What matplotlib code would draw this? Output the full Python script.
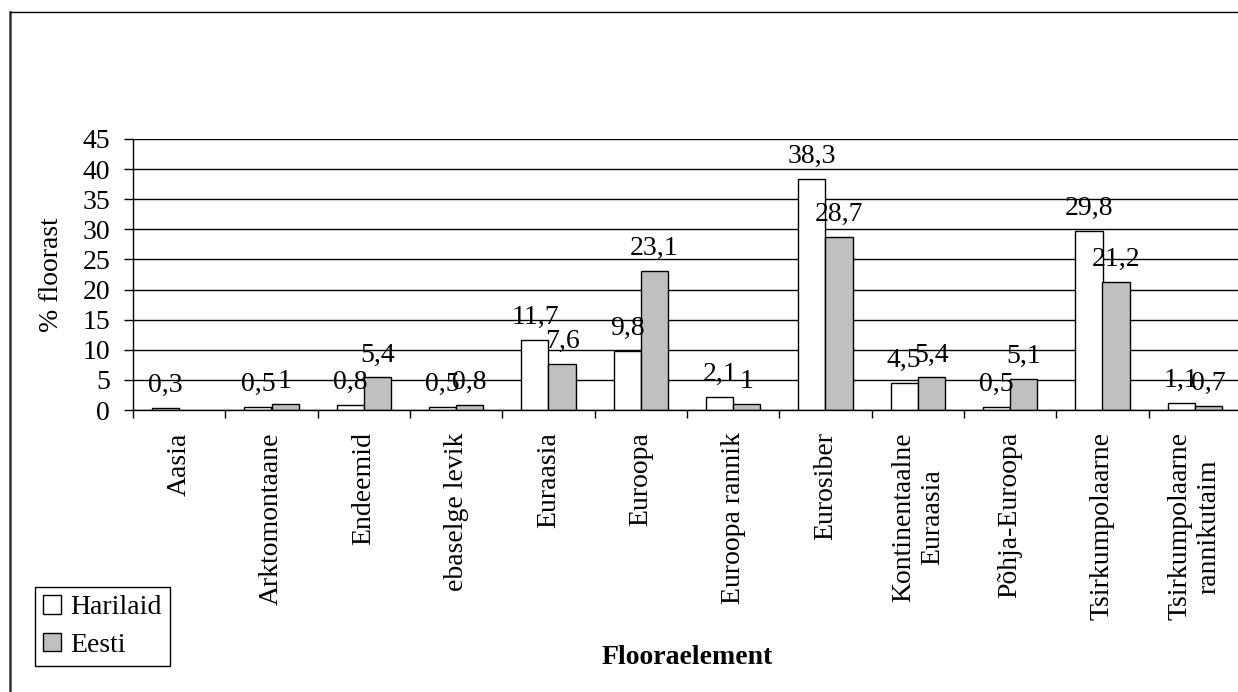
import numpy as np
import matplotlib
matplotlib.use("Agg")
import matplotlib.pyplot as plt
from matplotlib.patches import Patch
from matplotlib.lines import Line2D

plt.rcParams['font.family'] = ['Liberation Serif', 'DejaVu Serif']

categories = ['Aasia', 'Arktomontaane', 'Endeemid', 'ebaselge levik', 'Euraasia',
              'Euroopa', 'Euroopa rannik', 'Eurosiber', 'Kontinentaalne\nEuraasia',
              'Põhja-Euroopa', 'Tsirkumpolaarne', 'Tsirkumpolaarne\nrannikutaim']
harilaid = [0.3, 0.5, 0.8, 0.5, 11.7, 9.8, 2.1, 38.3, 4.5, 0.5, 29.8, 1.1]
eesti = [np.nan, 1, 5.4, 0.8, 7.6, 23.1, 1, 28.7, 5.4, 5.1, 21.2, 0.7]
yticks = list(range(0, 50, 5))

W, H = 1238, 692
fig = plt.figure(figsize=(W / 100, H / 100), dpi=100)
ax = fig.add_axes([133 / W, 282 / H, 1108 / W, 271 / H])

x = np.arange(len(categories))
w = 0.293
fs = 20

b1 = ax.bar(x - w / 2, harilaid, w, color='white', edgecolor='black', linewidth=1, zorder=3)
b2 = ax.bar(x + w / 2, eesti, w, color='#C0C0C0', edgecolor='black', linewidth=1, zorder=3)


def fmt(v):
    return f"{v:g}".replace('.', ',')


for xs, vals in ((x - w / 2, harilaid), (x + w / 2, eesti)):
    for xi, v in zip(xs, vals):
        if np.isnan(v):
            continue
        ax.annotate(fmt(v), (xi, v), xytext=(0, 11.5), textcoords='offset points',
                    ha='center', va='baseline', fontsize=fs, zorder=5)

ax.set_xlim(-0.5, len(categories) - 0.5)
ax.set_ylim(0, 45)
ax.set_yticks(yticks)
ax.set_yticklabels([str(t) for t in yticks], fontsize=fs)
ax.tick_params(axis='y', length=6.5, width=1, pad=10, direction='out')

ax.set_xticks(np.arange(-0.5, len(categories)))
ax.set_xticklabels([])
ax.tick_params(axis='x', which='major', length=6, width=1, direction='out')
ax.set_xticks(x, minor=True)
ax.set_xticklabels(categories, minor=True, rotation=90, ha='center', va='top',
                   fontsize=fs, multialignment='center')
ax.tick_params(axis='x', which='minor', length=0, pad=16)

ax.yaxis.grid(True, color='black', linewidth=1)
ax.set_axisbelow(True)
for s in ('top', 'right'):
    ax.spines[s].set_visible(False)
for s in ('left', 'bottom'):
    ax.spines[s].set_linewidth(1)
    ax.spines[s].set_zorder(4)

fig.text(51 / W, 1 - 275 / H, '% floorast', rotation=90, ha='center', va='center', fontsize=fs)
fig.text(687 / W, 1 - 664 / H, 'Flooraelement', ha='center', va='baseline',
         fontsize=fs, fontweight='bold')

handles = [Patch(facecolor='white', edgecolor='black', linewidth=1),
           Patch(facecolor='#C0C0C0', edgecolor='black', linewidth=1)]
leg = fig.legend(handles, ['Harilaid', 'Eesti'], loc='upper left',
                 bbox_to_anchor=(35 / W, 1 - 587 / H), borderaxespad=0,
                 fontsize=fs, frameon=True, fancybox=False, framealpha=1,
                 handlelength=0.65, handleheight=0.65, handletextpad=0.32,
                 labelspacing=0.45, borderpad=0.3)
leg.get_frame().set_edgecolor('black')
leg.get_frame().set_linewidth(1)

# chart border
fig.add_artist(Line2D([10 / W, 10 / W], [0, 1 - 12 / H], transform=fig.transFigure,
                      color='#333333', linewidth=1.8))
fig.add_artist(Line2D([10 / W, 1], [1 - 12 / H, 1 - 12 / H], transform=fig.transFigure,
                      color='black', linewidth=1))

fig.savefig('out.png', dpi=100)
